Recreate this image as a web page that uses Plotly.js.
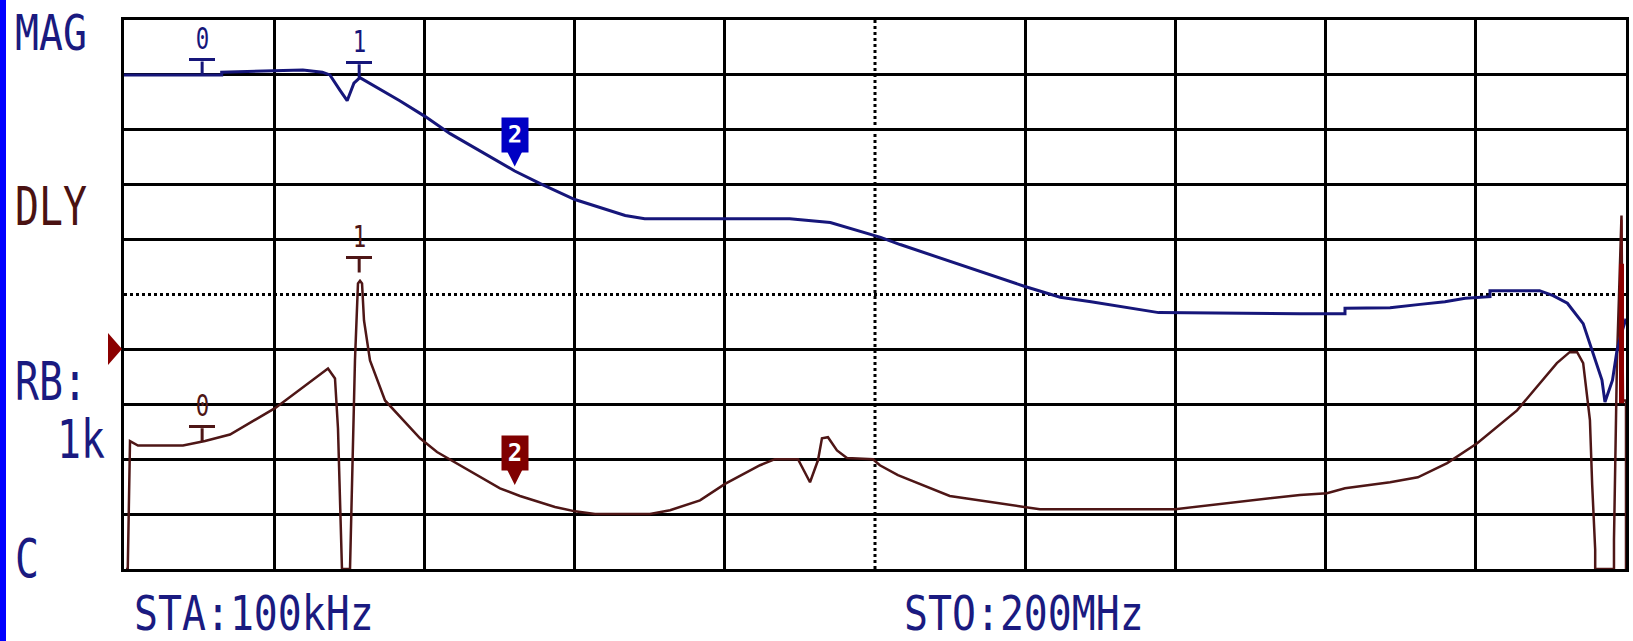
<!DOCTYPE html>
<html>
<head>
<meta charset="utf-8">
<script src="https://cdn.plot.ly/plotly-3.0.1.min.js"></script>
<style>
html,body{margin:0;padding:0;background:#fff;}
#chart{width:1633px;height:641px;}
</style>
</head>
<body>
<div id="chart"></div>
<script>
// ---- data (frequency in MHz, response in screen divisions) ----
const magFreq = [0.1,13.1,13.1,19.3,23.9,26.5,27.5,28.9,29.8,30.7,31.5,36.8,40.2,43.5,52.1,55.5,60.1,66.8,69.4,88.7,94.1,100.8,103.4,119.9,124.7,128.8,137.8,156.6,162.6,162.6,168.6,172.6,175.9,178.6,181.9,181.9,188.5,190.3,192.2,194.3,195.6,196.8,197.2,198.2,198.8,199.4,200];
const magDiv  = [9.0,9.0,9.05,9.07,9.09,9.05,9.0,8.71,8.53,8.85,8.95,8.53,8.24,7.93,7.25,7.02,6.73,6.44,6.38,6.38,6.31,6.04,5.91,5.15,4.95,4.87,4.67,4.65,4.65,4.75,4.76,4.82,4.87,4.93,4.96,5.07,5.07,4.98,4.84,4.47,3.93,3.44,3.04,3.44,3.98,4.3,4.56];

const dlyFreq = [0.37,0.6,0.9,1.96,7.95,10.88,14.21,20.2,27.25,28.18,28.58,29.11,30.18,30.44,30.84,31.24,31.51,31.78,32.04,32.84,34.84,39.5,41.76,50.14,52.8,57.46,60.12,62.79,70.1,72.77,76.76,80.09,84.75,86.74,89.8,91.4,92.46,92.99,93.79,94.99,96.32,99.78,100.7,103.1,110.0,119.9,122.0,140.0,147.3,156.6,160.2,162.6,168.6,172.3,176.2,180.2,185.5,190.8,192.5,193.5,194.3,194.7,195.2,195.5,195.9,195.9,198.4,198.4,198.8,199.4,199.6,200,200];
const dlyDiv  = [0,0,2.33,2.25,2.25,2.33,2.45,2.93,3.65,3.47,2.56,0,0,1.62,3.8,5.2,5.25,5.2,4.53,3.8,3.07,2.38,2.13,1.47,1.33,1.13,1.05,1.0,1.0,1.07,1.25,1.55,1.89,2.0,2.0,1.58,1.98,2.38,2.4,2.16,2.02,2.0,1.89,1.71,1.33,1.13,1.09,1.09,1.2,1.35,1.38,1.47,1.58,1.67,1.93,2.29,2.89,3.75,3.95,3.95,3.75,3.25,2.71,1.53,0.35,0,0,0.53,3.8,6.44,3.07,3.07,0];

// bright overlay spike at the stop end
const spikeFreq = [199.4, 199.4];
const spikeThin = [6.36, 5.56];
const spikeThick = [5.56, 3.02];

// markers
const markerLabels = ['0','1','2'];
const markerFreq = [10.5, 31.4, 52.1];
const markerMag  = [9.0, 8.95, 7.33];
const markerDly  = [2.32, 5.4, 1.53];

// screen texts
const startLabel = 'STA:100kHz';
const stopLabel  = 'STO:200MHz';
const sideLabels = ['MAG','DLY','RB:','1k','C'];

// ---- layout constants ----
const W = 1633, H = 641;
const L = 124, R = 1626, T = 20, B = 569;
const xMin = 0.1, xMax = 200, yMin = 0, yMax = 10, nDiv = 10;
const px = p => (p - L) / (R - L);
const py = p => (B - p) / (B - T);
const FONT = '"DejaVu Sans Mono", "Liberation Mono", monospace';
const NAVY = '#1a1a80', MAROON = '#4a1212';
const MAGC = '#16167a', DLYC = '#4e1616';

const xStep = (xMax - xMin) / nDiv, yStep = (yMax - yMin) / nDiv;
const xGrid = [], yGrid = [];
for (let i = 1; i < nDiv; i++) {
  if (i !== nDiv / 2) { xGrid.push(xMin + i * xStep); yGrid.push(yMin + i * yStep); }
}
const xMid = xMin + nDiv / 2 * xStep, yMid = yMin + nDiv / 2 * yStep;

const traces = [
  {x: dlyFreq, y: dlyDiv, mode: 'lines', line: {color: DLYC, width: 2.5}, hoverinfo: 'skip'},
  {x: magFreq, y: magDiv, mode: 'lines', line: {color: MAGC, width: 3}, hoverinfo: 'skip'},
  {x: spikeFreq, y: spikeThin, mode: 'lines', line: {color: '#6a1010', width: 2}, hoverinfo: 'skip'},
  {x: spikeFreq, y: spikeThick, mode: 'lines', line: {color: '#8e0000', width: 5}, hoverinfo: 'skip'}
];

const ann = [];
function tMarker(x, y, label, color) {
  ann.push({x: x, y: y, xref: 'x', yref: 'y', text: '&nbsp;', font: {size: 1},
    width: 26, height: 3, bgcolor: color, borderpad: 0, borderwidth: 0,
    showarrow: true, arrowhead: 0, arrowwidth: 3, arrowcolor: color, ax: 0, ay: -15, standoff: 0});
  ann.push({x: x, y: y, xref: 'x', yref: 'y', text: label, showarrow: false,
    font: {family: FONT, size: 28, color: color}, yshift: 36});
}
function flagMarker(x, y, label, color) {
  ann.push({x: x, y: y, xref: 'x', yref: 'y', text: '<b>' + label + '</b>',
    font: {family: FONT, size: 24, color: '#ffffff'}, bgcolor: color, width: 22, height: 30, borderpad: 2,
    showarrow: true, arrowhead: 2, arrowsize: 1.6, arrowwidth: 3, arrowcolor: color, ax: 0, ay: -32, standoff: 0});
}
tMarker(markerFreq[0], markerMag[0], markerLabels[0], MAGC);
tMarker(markerFreq[1], markerMag[1], markerLabels[1], MAGC);
flagMarker(markerFreq[2], markerMag[2], markerLabels[2], '#0000c4');
tMarker(markerFreq[0], markerDly[0], markerLabels[0], DLYC);
tMarker(markerFreq[1], markerDly[1], markerLabels[1], DLYC);
flagMarker(markerFreq[2], markerDly[2], markerLabels[2], '#800000');

const labelStyle = {};
function label(text, xPix, yPix, color, anchor, sy) {
  labelStyle[ann.length] = {anchor: anchor, sy: sy};
  ann.push({x: px(xPix), y: py(yPix), xref: 'paper', yref: 'paper', text: text, showarrow: false,
    xanchor: anchor, yanchor: 'middle', font: {family: FONT, size: 44, color: color}});
}
label(sideLabels[0], 13, 32, NAVY, 'left', 1.15);
label(sideLabels[1], 13, 206, MAROON, 'left', 1.2);
label(sideLabels[2], 13, 381, NAVY, 'left', 1.2);
label(sideLabels[3], 107, 439, NAVY, 'right', 1.2);
label(sideLabels[4], 13, 558, NAVY, 'left', 1.2);
label(startLabel, 132, 612, NAVY, 'left', 1.1);
label(stopLabel, 902, 612, NAVY, 'left', 1.1);

const shapes = [
  {type: 'line', xref: 'x', yref: 'paper', x0: xMid, x1: xMid, y0: 0, y1: 1, layer: 'below',
   line: {color: '#000', width: 3, dash: 'dot'}},
  {type: 'line', xref: 'paper', yref: 'y', x0: 0, x1: 1, y0: yMid, y1: yMid, layer: 'below',
   line: {color: '#000', width: 3, dash: 'dot'}},
  // blue bar at the left screen edge
  {type: 'rect', xref: 'paper', yref: 'paper', x0: px(0), x1: px(6), y0: py(H), y1: py(0),
   fillcolor: '#0000ff', line: {width: 0}},
  // reference level pointer
  {type: 'path', xref: 'paper', yref: 'paper',
   path: `M ${px(108)} ${py(333)} L ${px(122)} ${py(349)} L ${px(108)} ${py(365)} Z`,
   fillcolor: '#8b0000', line: {width: 0}}
];

const axisCommon = {showticklabels: false, ticks: '', zeroline: false, showline: true, mirror: true,
  linecolor: '#000', linewidth: 3, showgrid: true, gridcolor: '#000', gridwidth: 3, tickmode: 'array', fixedrange: true};

const layout = {
  width: W, height: H,
  margin: {l: L, r: W - R, t: T, b: H - B, pad: 0},
  paper_bgcolor: '#ffffff', plot_bgcolor: '#ffffff',
  showlegend: false,
  xaxis: Object.assign({}, axisCommon, {range: [xMin, xMax], tickvals: xGrid}),
  yaxis: Object.assign({}, axisCommon, {range: [yMin, yMax], tickvals: yGrid}),
  annotations: ann,
  shapes: shapes
};

// narrow, tall screen lettering: squeeze the monospace labels horizontally, stretch vertically
function condense() {
  document.querySelectorAll('g.annotation').forEach(g => {
    const idx = +g.getAttribute('data-index');
    const t = g.querySelector('text.annotation-text');
    if (!t) return;
    if (idx in labelStyle) {
      const s = labelStyle[idx];
      t.style.transformBox = 'fill-box';
      t.style.transformOrigin = (s.anchor === 'right' ? 'right' : 'left') + ' center';
      t.style.transform = 'scale(0.905, ' + s.sy + ')';
    } else if (t.textContent.trim() === '0' || t.textContent.trim() === '1') {
      t.style.transformBox = 'fill-box';
      t.style.transformOrigin = 'center center';
      t.style.transform = 'scale(0.8, 1.1)';
    }
  });
}
Plotly.newPlot('chart', traces, layout, {staticPlot: true, displayModeBar: false}).then(condense);
</script>
</body>
</html>
